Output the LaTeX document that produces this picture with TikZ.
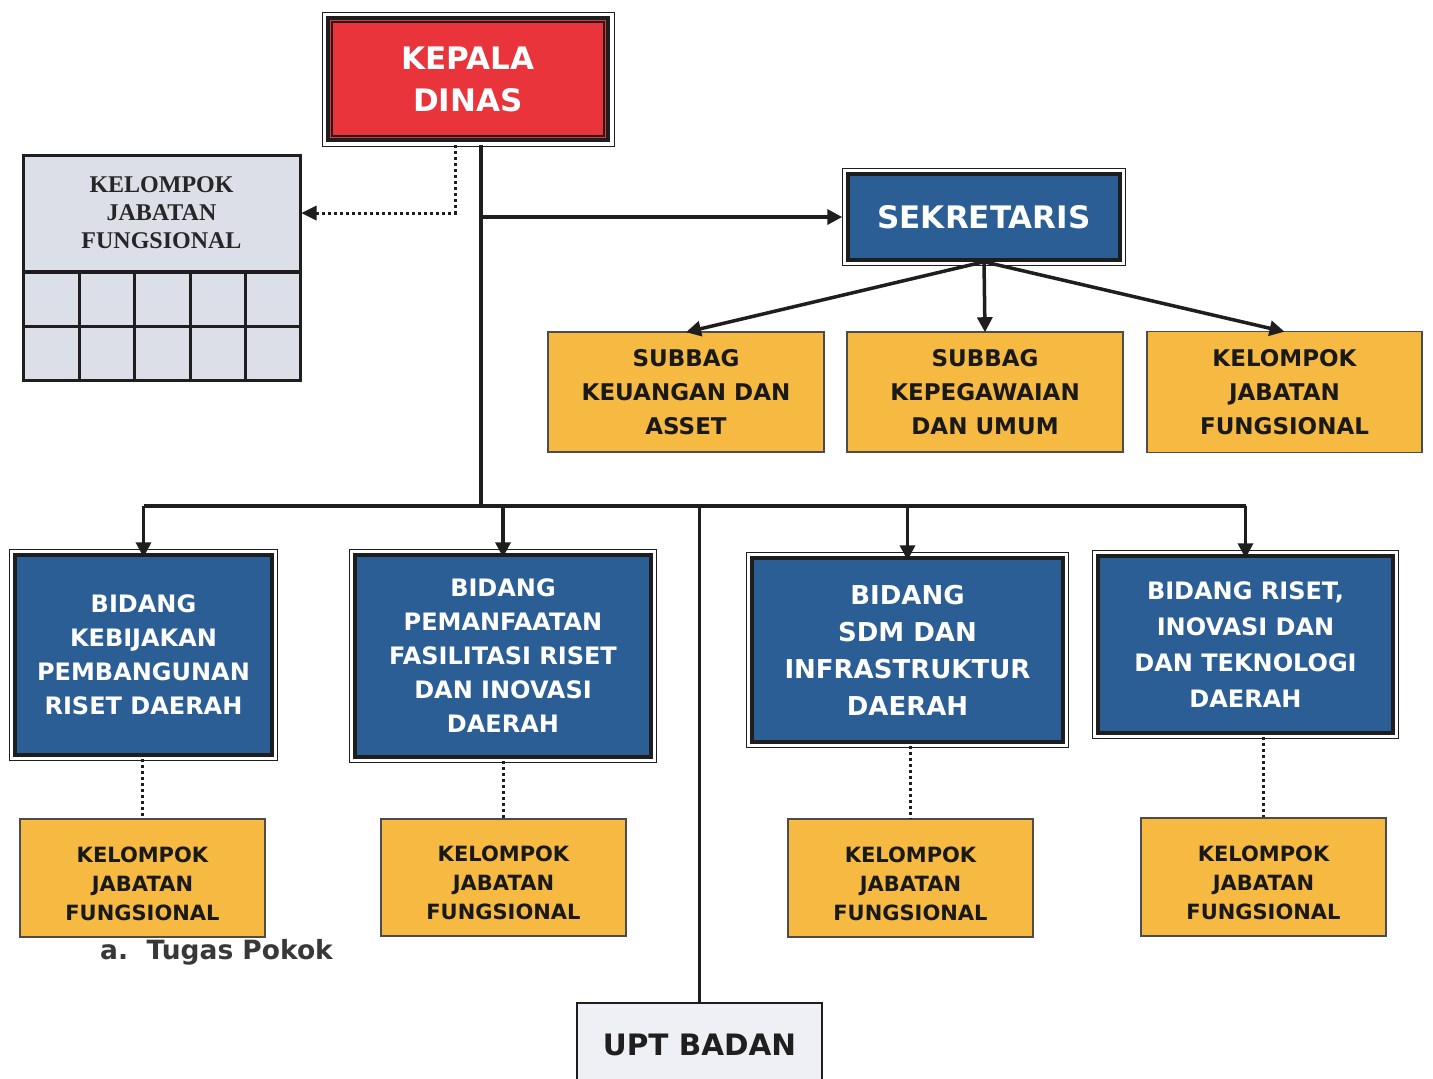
\documentclass[tikz,border=0pt]{standalone}
\usepackage{fontspec}
\setmainfont{DejaVu Sans}
\newfontfamily\serifbf{Liberation Serif}
\usetikzlibrary{arrows.meta}
\definecolor{redc}{RGB}{234,52,60}
\definecolor{bluec}{RGB}{44,94,150}
\definecolor{yellowc}{RGB}{246,186,66}
\definecolor{greyc}{RGB}{220,223,232}
\definecolor{uptc}{RGB}{238,240,246}
\definecolor{linec}{RGB}{30,30,30}
\newcommand\oframe[2][3.6]{\draw[linec, line width=1pt] ([shift={(-#1,-#1)}]#2.north west) rectangle ([shift={(#1,#1)}]#2.south east);}
\tikzset{
  box/.style={rectangle, inner sep=0pt, align=center},
  bluebox/.style={box, fill=bluec, draw=linec, line width=3.5pt, text=white, font=\bfseries\fontsize{24}{34}\selectfont},
  yelbox/.style={box, fill=yellowc, draw=black!70, line width=1.6pt, text=black!90, font=\bfseries\fontsize{23}{34}\selectfont},
  yelsmall/.style={yelbox, font=\bfseries\fontsize{21}{29}\selectfont, text height=85pt},
  conn/.style={draw=linec, line width=3.5pt},
  arr/.style={conn, -{Triangle[length=15pt,width=15pt]}},
  dots/.style={draw=linec, line width=3pt, dash pattern=on 3pt off 3pt},
}
\begin{document}
\begin{tikzpicture}[x=1pt,y=-1pt]
\useasboundingbox (0,0) rectangle (1433,1079);
\fill[white] (0,0) rectangle (1433,1079);

% KEPALA DINAS
\node[box, fill=redc, draw=linec, line width=4pt,
  minimum width=280pt, minimum height=122pt, text=white,
  font=\bfseries\fontsize{31}{42}\selectfont] (kd) at (468,79) {KEPALA\\DINAS};
\oframe[4]{kd}
\draw[linec, line width=1.8pt] ([shift={(6,6)}]kd.north west) rectangle ([shift={(-6,-6)}]kd.south east);

% left grid box
\node[box, fill=greyc, draw=linec, line width=3pt, minimum width=277pt, minimum height=116pt,
  font=\serifbf\bfseries\fontsize{24}{28}\selectfont, text=black!85] (kjf) at (161.5,213) {KELOMPOK\\JABATAN\\FUNGSIONAL};
\fill[greyc] (23,272) rectangle (300,380);
\draw[linec, line width=3pt] (23,272) rectangle (300,380);
\draw[linec, line width=3pt] (23,326) -- (300,326);
\foreach \x in {79,134,190,245} \draw[linec, line width=3pt] (\x,272) -- (\x,380);

% SEKRETARIS
\node[bluebox, minimum width=272pt, minimum height=86pt, font=\bfseries\fontsize{31}{34}\selectfont] (sek) at (984,217) {SEKRETARIS};
\oframe{sek}

% upper yellow
\node[yelbox, minimum width=276pt, minimum height=120pt] (ya) at (686,392) {SUBBAG\\KEUANGAN DAN\\ASSET};
\node[yelbox, minimum width=276pt, minimum height=120pt] (yb) at (985,392) {SUBBAG\\KEPEGAWAIAN\\DAN UMUM};
\node[yelbox, minimum width=275pt, minimum height=121pt] (yc) at (1284.5,392) {KELOMPOK\\JABATAN\\FUNGSIONAL};

% blue bidang
\node[bluebox, minimum width=257pt, minimum height=200pt] (b1) at (143.5,655) {BIDANG\\KEBIJAKAN\\PEMBANGUNAN\\RISET DAERAH};
\node[bluebox, minimum width=296pt, minimum height=202pt] (b2) at (503,656) {BIDANG\\PEMANFAATAN\\FASILITASI RISET\\DAN INOVASI\\DAERAH};
\node[bluebox, minimum width=311pt, minimum height=184pt, font=\bfseries\fontsize{26}{37}\selectfont] (b3) at (907.5,650) {BIDANG\\SDM DAN\\INFRASTRUKTUR\\DAERAH};
\node[bluebox, minimum width=295pt, minimum height=177pt, font=\bfseries\fontsize{24}{36}\selectfont] (b4) at (1245.5,644.5) {BIDANG RISET,\\INOVASI DAN\\DAN TEKNOLOGI\\DAERAH};
\oframe{b1}\oframe{b2}\oframe{b3}\oframe{b4}

% lower yellow
\node[yelsmall, minimum width=245pt, minimum height=118pt] (y1) at (142.5,878) {KELOMPOK\\JABATAN\\FUNGSIONAL};
\node[yelsmall, minimum width=245pt, minimum height=117pt] (y2) at (503.5,877.5) {KELOMPOK\\JABATAN\\FUNGSIONAL};
\node[yelsmall, minimum width=245pt, minimum height=118pt] (y3) at (910.5,878) {KELOMPOK\\JABATAN\\FUNGSIONAL};
\node[yelsmall, minimum width=245pt, minimum height=118pt] (y4) at (1263.5,877) {KELOMPOK\\JABATAN\\FUNGSIONAL};

% UPT
\node[box, fill=uptc, draw=linec, line width=2pt, minimum width=245pt, minimum height=84pt,
  font=\bfseries\fontsize{29.5}{34}\selectfont, text=black!88] (upt) at (699.5,1045) {UPT BADAN};

% caption
\node[font=\bfseries\fontsize{26.5}{30}\selectfont, text=black!78, anchor=west, inner sep=0pt] (cap) at (100,952) {a.\ \ Tugas Pokok};

% connectors
\coordinate (ds) at (455,145);
\draw[dots] (ds) |- ([xshift=14pt]kjf.east);
\fill[linec] (kjf.east) -- ++(15,-7.5) -- ++(0,15) -- cycle;
\coordinate (tt) at (481,145);
\coordinate (bus) at (481,506);
\draw[conn] (tt) -- (bus);
\draw[arr] (tt |- sek.west) -- ([xshift=-4pt]sek.west);
\draw[arr] (sek.south) -- ([yshift=-1pt]ya.north);
\draw[arr] (sek.south) -- ([yshift=-1pt]yb.north);
\draw[arr] (sek.south) -- ([yshift=-1pt]yc.north);
\draw[conn] (b1.north |- bus) -- (b4.north |- bus);
\draw[arr] (b1.north |- bus) -- ([yshift=-4pt]b1.north);
\draw[arr] (b2.north |- bus) -- ([yshift=-4pt]b2.north);
\draw[arr] (b3.north |- bus) -- ([yshift=-4pt]b3.north);
\draw[arr] (b4.north |- bus) -- ([yshift=-4pt]b4.north);
\draw[conn] (upt.north |- bus) -- (upt.north);
\draw[dots] ([yshift=4pt]y1.north |- b1.south) -- (y1.north);
\draw[dots] ([yshift=4pt]y2.north |- b2.south) -- (y2.north);
\draw[dots] ([yshift=4pt]y3.north |- b3.south) -- (y3.north);
\draw[dots] ([yshift=4pt]y4.north |- b4.south) -- (y4.north);
\end{tikzpicture}
\end{document}
